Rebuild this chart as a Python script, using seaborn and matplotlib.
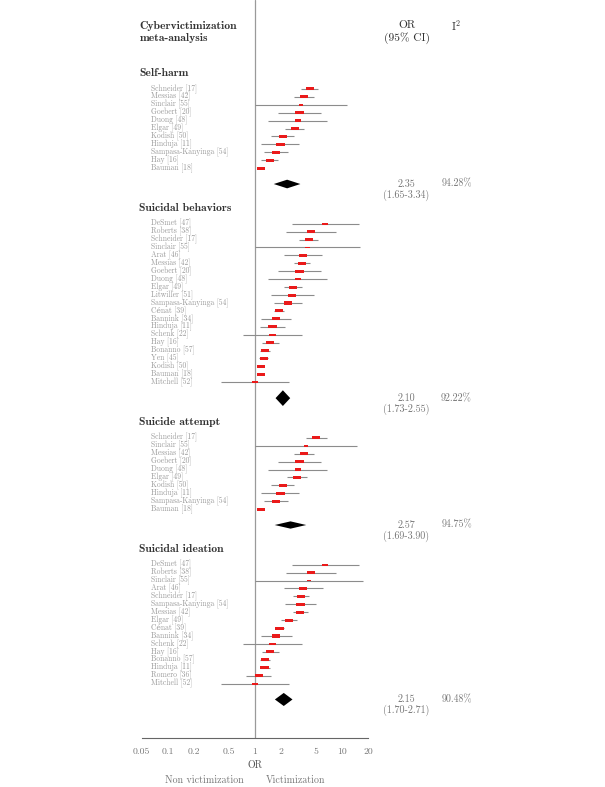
import matplotlib

matplotlib.use("Agg")
import matplotlib.pyplot as plt
import matplotlib.transforms as mtransforms
from matplotlib.ticker import NullLocator
import numpy as np
import pandas as pd
import seaborn as sns

# ---------------------------------------------------------
# DATA (odds ratios and 95% CI)
# ---------------------------------------------------------
outcomes = ["Self-harm", "Suicidal behaviors", "Suicide attempt", "Suicidal ideation"]

names_self_harm = ["Schneider [17]", "Messias [42]", "Sinclair [55]", "Goebert [20]",
                   "Duong [48]", "Elgar [49]", "Kodish [50]", "Hinduja [11]",
                   "Sampasa-Kanyinga [54]", "Hay [16]", "Bauman [18]"]
or_self_harm = [4.29, 3.66, 3.41, 3.26, 3.12, 2.88, 2.10, 1.97, 1.76, 1.49, 1.17]
lo_self_harm = [3.41, 2.81, 1.00, 1.85, 1.42, 2.25, 1.55, 1.19, 1.28, 1.19, 1.08]
hi_self_harm = [5.39, 4.77, 11.5, 5.79, 6.84, 3.69, 2.83, 3.26, 2.42, 1.85, 1.27]

names_behaviors = ["DeSmet [47]", "Roberts [38]", "Schneider [17]", "Sinclair [55]",
                   "Arat [46]", "Messias [42]", "Goebert [20]", "Duong [48]",
                   "Elgar [49]", "Litwiller [51]", "Sampasa-Kanyinga [54]",
                   "Cénat [39]", "Bannink [34]", "Hinduja [11]", "Schenk [22]",
                   "Hay [16]", "Bonanno [57]", "Yen [45]", "Kodish [50]",
                   "Bauman [18]", "Mitchell [52]"]
or_behaviors = [6.43, 4.44, 4.18, 4.03, 3.56, 3.47, 3.26, 3.12, 2.73, 2.66, 2.42,
                1.90, 1.76, 1.60, 1.60, 1.50, 1.30, 1.27, 1.17, 1.17, 1.01]
lo_behaviors = [2.64, 2.29, 3.26, 1.00, 2.15, 2.81, 1.85, 1.42, 2.17, 1.53, 1.68,
                1.68, 1.19, 1.16, 0.73, 1.20, 1.15, 1.13, 1.09, 1.09, 0.41]
hi_behaviors = [15.8, 8.68, 5.30, 16.1, 5.94, 4.36, 5.79, 6.84, 3.50, 4.77, 3.50,
                2.15, 2.62, 2.21, 3.50, 1.89, 1.49, 1.42, 1.26, 1.26, 2.50]

names_attempt = ["Schneider [17]", "Sinclair [55]", "Messias [42]", "Goebert [20]",
                 "Duong [48]", "Elgar [49]", "Kodish [50]", "Hinduja [11]",
                 "Sampasa-Kanyinga [54]", "Bauman [18]"]
or_attempt = [5.07, 3.89, 3.66, 3.26, 3.12, 3.04, 2.10, 1.97, 1.76, 1.17]
lo_attempt = [3.86, 1.00, 2.81, 1.85, 1.42, 2.35, 1.55, 1.19, 1.28, 1.08]
hi_attempt = [6.78, 14.9, 4.77, 5.79, 6.84, 3.96, 2.83, 3.26, 2.42, 1.27]

names_ideation = ["DeSmet [47]", "Roberts [38]", "Sinclair [55]", "Arat [46]",
                  "Schneider [17]", "Sampasa-Kanyinga [54]", "Messias [42]",
                  "Elgar [49]", "Cénat [39]", "Bannink [34]", "Schenk [22]",
                  "Hay [16]", "Bonanno [57]", "Hinduja [11]", "Romero [36]",
                  "Mitchell [52]"]
or_ideation = [6.43, 4.44, 4.21, 3.59, 3.38, 3.35, 3.32, 2.46, 1.92, 1.76, 1.60,
               1.50, 1.30, 1.29, 1.11, 1.01]
lo_ideation = [2.64, 2.29, 1.00, 2.15, 2.78, 2.21, 2.78, 1.99, 1.70, 1.19, 0.73,
               1.20, 1.15, 1.15, 0.80, 0.41]
hi_ideation = [15.8, 8.68, 17.6, 6.00, 4.18, 5.11, 4.10, 3.04, 2.17, 2.64, 3.50,
               1.89, 1.49, 1.48, 1.55, 2.50]

pooled_or = [2.35, 2.10, 2.57, 2.15]
pooled_lo = [1.65, 1.73, 1.69, 1.70]
pooled_hi = [3.34, 2.55, 3.90, 2.71]
i_squared = [94.28, 92.22, 94.75, 90.48]

tick_values = [0.05, 0.1, 0.2, 0.5, 1, 2, 5, 10, 20]
tick_labels = ["0.05", "0.1", "0.2", "0.5", "1", "2", "5", "10", "20"]

# ---------------------------------------------------------
# STYLE / LAYOUT
# ---------------------------------------------------------
sns.set_theme(style="white")
plt.rcParams["font.family"] = ["cmr10", "DejaVu Serif"]
plt.rcParams["mathtext.fontset"] = "cm"
plt.rcParams["axes.unicode_minus"] = False
plt.rcParams["axes.formatter.use_mathtext"] = True

W, H = 605, 787
ROW_PX = 7.93          # pixel height of one study row
FIRST_HEADER_PX = 73.0  # y of the "Self-harm" header
AX_BOTTOM_PX = 737.7
AX_LEFT_PX, AX_RIGHT_PX = 141.7, 368.0

BOX_RED = "#ea1a1a"
CI_GREY = "#8c8c8c"
NAME_GREY = "#9a9a9a"
DARK = "#333333"
BOLD = ["cmb10", "DejaVu Serif"]


def fx(px):
    return px / W


def fy(py):
    return 1 - py / H


groups = [
    (names_self_harm, or_self_harm, lo_self_harm, hi_self_harm),
    (names_behaviors, or_behaviors, lo_behaviors, hi_behaviors),
    (names_attempt, or_attempt, lo_attempt, hi_attempt),
    (names_ideation, or_ideation, lo_ideation, hi_ideation),
]

# row positions (one unit = one study row)
records = []
header_rows = []
summary_rows = []
r = 0
for g, (names, ors, los, his) in enumerate(groups):
    header_rows.append(r)
    for k in range(len(names)):
        records.append(dict(group=outcomes[g], name=names[k], OR=ors[k],
                            lo=los[k], hi=his[k], row=r + 2 + k))
    d = r + 2 + len(names) + 1
    summary_rows.append(d)
    r = d + 3
df = pd.DataFrame(records)

# box width shrinks for very imprecise studies
ci_log = np.log10(df["hi"]) - np.log10(df["lo"])
box_px = np.clip(4.3 / ci_log.clip(lower=1e-3), 4.5, 8.3)
df["s"] = (box_px * 0.72) ** 2

fig = plt.figure(figsize=(W / 100, H / 100), dpi=100)
ax = fig.add_axes([fx(AX_LEFT_PX), fy(AX_BOTTOM_PX),
                   (AX_RIGHT_PX - AX_LEFT_PX) / W, AX_BOTTOM_PX / H])
ax.set_xscale("log")
ax.set_xlim(0.05, 20)
ax.set_ylim((AX_BOTTOM_PX - FIRST_HEADER_PX) / ROW_PX, -FIRST_HEADER_PX / ROW_PX)

# null line
ax.axvline(1, color="#9a9a9a", lw=0.9, zorder=1)

# confidence intervals
ax.hlines(df["row"], df["lo"], df["hi"], color=CI_GREY, lw=0.8, zorder=2)

# study boxes
rect = [(-1, -0.37), (1, -0.37), (1, 0.37), (-1, 0.37), (-1, -0.37)]
sns.scatterplot(data=df, x="OR", y="row", size="s",
                sizes=(df["s"].min(), df["s"].max()), marker=rect,
                color=BOX_RED, linewidth=0, legend=False, ax=ax, zorder=3)

# pooled diamonds (height shrinks as CI widens, constant area look)
for g in range(len(outcomes)):
    y = summary_rows[g]
    dlog = np.log10(pooled_hi[g]) - np.log10(pooled_lo[g])
    half_h = 0.5 * 0.334 / dlog
    ax.fill([pooled_lo[g], pooled_or[g], pooled_hi[g], pooled_or[g]],
            [y, y - half_h, y, y + half_h], color="black", lw=0, zorder=4)

# axes cosmetics
for side in ["top", "left", "right"]:
    ax.spines[side].set_visible(False)
ax.spines["bottom"].set_color("#666666")
ax.spines["bottom"].set_linewidth(0.8)
ax.set_yticks([])
ax.set_ylabel("")
ax.set_xlabel("")
ax.set_xticks(tick_values)
ax.set_xticklabels(tick_labels)
ax.xaxis.set_minor_locator(NullLocator())
ax.tick_params(axis="x", direction="in", length=2, width=0.6, color="#666666",
               labelsize=7, labelcolor="#777777", pad=7)

# ---------------------------------------------------------
# TEXT
# ---------------------------------------------------------
tx = mtransforms.blended_transform_factory(fig.transFigure, ax.transData)

fig.text(fx(139.3), fy(32), "Cybervictimization\nmeta-analysis", family=BOLD,
         fontsize=8.4, color=DARK, ha="left", va="center", linespacing=1.15)
fig.text(fx(406.5), fy(32), "OR\n(95% CI)", fontsize=8.2, color=DARK,
         ha="center", va="center", multialignment="center", linespacing=1.2)
fig.text(fx(456.5), fy(26), r"I$^{2}$", fontsize=8.2, color=DARK,
         ha="center", va="center")

for g in range(len(outcomes)):
    ax.text(fx(139.3), header_rows[g], outcomes[g], transform=tx, family=BOLD,
            fontsize=8.4, color=DARK, ha="left", va="center")
    y = summary_rows[g]
    ax.text(fx(406.5), y, f"{pooled_or[g]:.2f}", transform=tx, fontsize=7.2,
            color="#777777", ha="center", va="center")
    ax.text(fx(406.5), y + 1.4, f"({pooled_lo[g]:.2f}-{pooled_hi[g]:.2f})",
            transform=tx, fontsize=7.2, color="#777777", ha="center", va="center")
    ax.text(fx(456.5), y, f"{i_squared[g]:.2f}%", transform=tx, fontsize=7.2,
            color="#777777", ha="center", va="center")

for _, rec in df.iterrows():
    ax.text(fx(150.7), rec["row"], rec["name"], transform=tx, fontsize=5.5,
            color=NAME_GREY, ha="left", va="center")

fig.text(fx(254.7), fy(765), "OR", fontsize=7.2, color="#555555", ha="center", va="center")
fig.text(fx(204.3), fy(780), "Non victimization", fontsize=7.2, color="#777777",
         ha="center", va="center")
fig.text(fx(295.7), fy(780), "Victimization", fontsize=7.2, color="#777777",
         ha="center", va="center")

fig.savefig("out.png", dpi=100, facecolor="white")
